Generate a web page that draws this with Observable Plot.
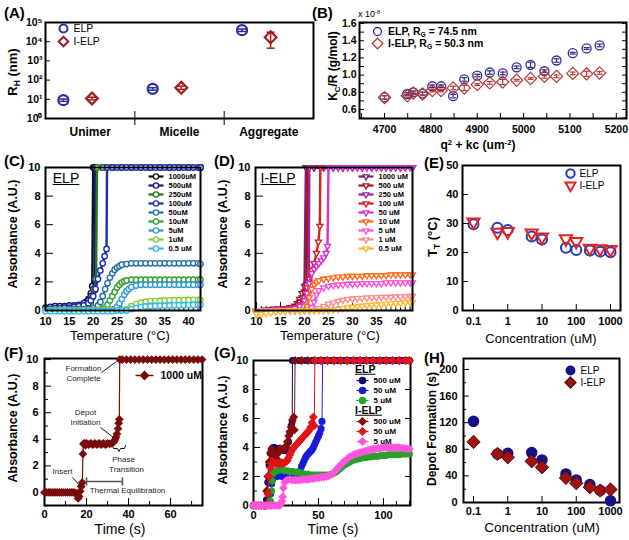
<!DOCTYPE html>
<html><head><meta charset="utf-8">
<script src="https://cdn.jsdelivr.net/npm/d3@7"></script>
<script src="https://cdn.jsdelivr.net/npm/@observablehq/plot@0.6"></script>
<style>
body{margin:0;background:#fff;}
#root{position:relative;width:629px;height:540px;overflow:hidden;font-family:"Liberation Sans",Arial,sans-serif;background:#fff;}
.t{position:absolute;white-space:nowrap;line-height:1;color:#000;transform-origin:50% 50%;}
.t sub{font-size:65%;vertical-align:baseline;position:relative;top:0.35em;}
.t sup{font-size:65%;vertical-align:baseline;position:relative;top:-0.5em;}
</style></head><body><div id="root"></div>
<script>
// ================= DATA =================
// (A) hydrodynamic radius
const categories = ["Unimer", "Micelle", "Aggregate"];
const rhELP = [9, 35, 40000];
const rhELPLo = [7.8, 30, 34000];
const rhELPHi = [10.3, 40, 46000];
const rhIELP = [11, 40, 17000];
const rhIELPLo = [9.3, 33, 4600];
const rhIELPHi = [12.8, 48, 31000];
const aYTicks = [1, 10, 100, 1000, 10000, 100000];
const aYTickLabels = ["10⁰", "10¹", "10²", "10³", "10⁴", "10⁵"];

// (B) Zimm data
const q2 = [4700, 4749, 4762, 4782, 4803, 4822, 4848, 4872, 4900, 4927, 4955, 4985, 5015, 5045, 5071, 5106, 5136, 5164];
const kcELP = [0.74, 0.78, 0.80, 0.785, 0.87, 0.87, 0.755, 0.95, 0.995, 1.03, 1.02, 1.09, 1.12, 1.045, 1.17, 1.255, 1.31, 1.345];
const kcELPErr = [0.02, 0.015, 0.015, 0.015, 0.015, 0.015, 0.02, 0.02, 0.015, 0.02, 0.015, 0.015, 0.03, 0.015, 0.02, 0.01, 0.01, 0.015];
const kcIELP = [0.74, 0.76, 0.79, 0.78, 0.82, 0.82, 0.85, 0.85, 0.89, 0.91, 0.92, 0.94, 0.96, 0.985, 0.985, 1.02, 1.015, 1.025];
const kcIELPErr = [0.02, 0.015, 0.015, 0.02, 0.015, 0.015, 0.02, 0.03, 0.01, 0.015, 0.03, 0.01, 0.01, 0.02, 0.015, 0.015, 0.03, 0.015];
const bXTicks = [4700, 4800, 4900, 5000, 5100, 5200];
const bXMinor = [4650, 4700, 4750, 4800, 4850, 4900, 4950, 5000, 5050, 5100, 5150, 5200];
const bYTicks = [0.6, 0.8, 1.0, 1.2, 1.4, 1.6];
const bYMinor = [0.5, 0.6, 0.7, 0.8, 0.9, 1.0, 1.1, 1.2, 1.3, 1.4, 1.5, 1.6];

// (C) ELP turbidity vs temperature [T, A]
const cLabels = ["1000uM", "500uM", "250uM", "100uM", "50uM", "10uM", "5uM", "1uM", "0.5 uM"];
const c1000 = [[10,0.1],[11,0.15],[12,0.15],[13,0.2],[14,0.2],[15,0.2],[16,0.25],[17,0.3],[18,0.4],[18.5,0.6],[19,0.8],[19.5,1.2],[19.8,1.7],[20,10],[22,10],[24,10],[26,10],[28,10],[30,10],[32,10],[34,10],[36,10],[38,10],[40,10],[42.5,10]];
const c500 = [[10,0.2],[11,0.25],[12,0.3],[13,0.3],[14,0.3],[15,0.35],[16,0.35],[17,0.4],[18,0.5],[19,0.7],[19.5,1.0],[20,1.5],[20.3,2.2],[20.4,10],[22,10],[24,10],[26,10],[28,10],[30,10],[32,10],[34,10],[36,10],[38,10],[40,10],[42.5,10]];
const c250 = [[10,0.05],[11,0.05],[12,0.1],[13,0.1],[14,0.15],[15,0.15],[16,0.2],[17,0.2],[18,0.3],[19,0.5],[19.8,0.9],[20.3,1.4],[20.6,2.2],[20.8,10],[22,10],[24,10],[26,10],[28,10],[30,10],[32,10],[34,10],[36,10],[38,10],[40,10],[42.5,10]];
const c100 = [[10,0.1],[11,0.1],[12,0.15],[13,0.15],[14,0.2],[15,0.2],[16,0.25],[17,0.3],[18,0.35],[19,0.5],[19.5,0.7],[20,1.0],[20.5,1.5],[21,2.2],[21.5,2.8],[22,3.3],[22.4,3.8],[22.8,4.3],[22.9,10],[24,10],[25,10],[26,10],[27,10],[28,10],[29,10],[30,10],[31,10],[32,10],[33,10],[34,10],[35,10],[36,10],[37,10],[38,10],[39,10],[40,10],[41,10],[42,10],[42.5,10]];
const c50 = [[10,0.05],[11,0.05],[12,0.05],[13,0.05],[14,0.05],[15,0.1],[16,0.1],[17,0.1],[18,0.1],[19,0.1],[20,0.15],[21,0.35],[21.5,0.6],[22,1.0],[22.5,1.5],[23,1.9],[23.5,2.3],[24,2.6],[24.5,2.85],[25,3.0],[25.5,3.1],[26,3.2],[27,3.25],[28,3.3],[29,3.3],[30,3.3],[31,3.3],[32,3.3],[33,3.3],[34,3.3],[35,3.3],[36,3.3],[37,3.3],[38,3.3],[39,3.3],[40,3.3],[41,3.3],[42,3.3],[42.5,3.25]];
const c10 = [[10,0],[11,0],[12,0],[13,0],[14,0],[15,0],[16,0],[17,0],[18,0],[19,0],[20,0],[21,0.05],[22,0.1],[22.5,0.2],[23,0.4],[23.5,0.7],[24,1.0],[24.5,1.3],[25,1.6],[25.5,1.8],[26,1.95],[26.5,2.05],[27,2.1],[28,2.15],[29,2.15],[30,2.15],[31,2.15],[32,2.15],[33,2.15],[34,2.15],[35,2.15],[36,2.15],[37,2.15],[38,2.15],[39,2.15],[40,2.15],[41,2.15],[42,2.15],[42.5,2.15]];
const c5 = [[10,0],[11,0],[12,0],[13,0],[14,0],[15,0],[16,0],[17,0],[18,0],[19,0],[20,0],[21,0],[22,0],[23,0],[24,0],[24.5,0.1],[25,0.25],[25.5,0.5],[26,0.8],[26.5,1.1],[27,1.35],[27.5,1.5],[28,1.65],[29,1.75],[30,1.8],[31,1.8],[32,1.8],[33,1.8],[34,1.8],[35,1.8],[36,1.8],[37,1.8],[38,1.8],[39,1.8],[40,1.8],[41,1.8],[42,1.8],[42.5,1.8]];
const c1 = [[10,0],[11,0],[12,0],[13,0],[14,0],[15,0],[16,0],[17,0],[18,0],[19,0],[20,0],[21,0],[22,0],[23,0],[24,0],[25,0],[26,0],[27,0.1],[28,0.3],[29,0.45],[30,0.55],[31,0.62],[32,0.66],[33,0.68],[34,0.69],[35,0.7],[36,0.71],[37,0.72],[38,0.72],[39,0.73],[40,0.74],[41,0.75],[42,0.75],[42.5,0.75]];
const c05 = [[10,-0.05],[11,-0.05],[12,-0.05],[13,-0.05],[14,-0.05],[15,-0.05],[16,-0.05],[17,-0.05],[18,-0.05],[19,-0.05],[20,-0.05],[21,-0.05],[22,-0.05],[23,-0.05],[24,-0.05],[25,0],[26,0],[27,0],[28,0.1],[29,0.18],[30,0.25],[31,0.28],[32,0.3],[33,0.32],[34,0.33],[35,0.34],[36,0.35],[37,0.36],[38,0.37],[39,0.37],[40,0.38],[41,0.39],[42,0.4],[42.5,0.4]];
const cSeries = [c1000, c500, c250, c100, c50, c10, c5, c1, c05];

// (D) I-ELP turbidity vs temperature [T, A]
const dLabels = ["1000 uM", "500 uM", "250 uM", "100 uM", "50 uM", "10 uM", "5 uM", "1 uM", "0.5 uM"];
const d1000 = [[10,-0.2],[11,-0.15],[12,0],[13,0.05],[14,0.1],[15,0.1],[16,0.15],[17,0.2],[18,0.3],[18.5,0.5],[19,0.8],[19.5,1.2],[20,1.7],[20.3,10],[22,10],[24,10],[26,10],[28,10],[30,10],[32,10],[34,10],[36,10],[38,10],[40,10],[42.5,10]];
const d500 = [[10,-0.1],[11,-0.05],[12,0],[13,0.05],[14,0.1],[15,0.1],[16,0.15],[17,0.2],[18,0.3],[19,0.6],[19.5,0.9],[20,1.3],[20.4,1.8],[20.7,10],[22,10],[24,10],[26,10],[28,10],[30,10],[32,10],[34,10],[36,10],[38,10],[40,10],[42.5,10]];
const d250 = [[10,-0.1],[11,-0.05],[12,0],[13,0],[14,0.05],[15,0.05],[16,0.1],[17,0.15],[18,0.2],[19,0.4],[20,0.9],[20.5,1.5],[20.9,2.0],[21,10],[22,10],[24,10],[26,10],[28,10],[30,10],[32,10],[34,10],[36,10],[38,10],[40,10],[42.5,10]];
const d100 = [[10,0],[11,0],[12,0.05],[13,0.05],[14,0.1],[15,0.1],[16,0.15],[17,0.15],[18,0.2],[19,0.4],[20,0.9],[20.5,1.6],[21,2.2],[21.5,2.8],[22,3.3],[22.5,4.0],[22.9,4.8],[23.2,5.9],[23.3,10],[25,10],[27,10],[29,10],[31,10],[33,10],[35,10],[37,10],[39,10],[41,10],[42.5,10]];
const d50 = [[10,0],[11,0],[12,0],[13,0],[14,0.05],[15,0.05],[16,0.1],[17,0.1],[18,0.15],[19,0.3],[20,0.7],[20.5,1.2],[21,1.9],[21.5,2.6],[22,2.9],[22.5,3.1],[23,3.3],[23.5,3.5],[24,3.7],[24.5,4.0],[24.8,4.5],[25,10],[26,10],[27,10],[28,10],[29,10],[30,10],[31,10],[32,10],[33,10],[34,10],[35,10],[36,10],[37,10],[38,10],[39,10],[40,10],[41,10],[42,10],[42.5,10]];
const d10 = [[10,-0.1],[11,-0.1],[12,-0.1],[13,-0.05],[14,-0.05],[15,0],[16,0],[17,0],[18,0],[19,0],[20,0.05],[20.5,0.3],[21,0.9],[21.5,1.5],[22,1.8],[22.5,2.0],[23,2.1],[24,2.2],[25,2.25],[26,2.3],[27,2.35],[28,2.35],[29,2.4],[30,2.4],[31,2.4],[32,2.4],[33,2.45],[34,2.45],[35,2.45],[36,2.45],[37,2.45],[38,2.5],[39,2.5],[40,2.5],[41,2.5],[42,2.5],[42.5,2.5]];
const d5 = [[10,0],[11,0],[12,0],[13,0],[14,0],[15,0],[16,0],[17,0],[18,0],[19,0],[20,0],[21,0],[21.5,0.2],[22,0.6],[22.5,1.1],[23,1.4],[24,1.6],[25,1.7],[26,1.75],[27,1.8],[28,1.8],[29,1.85],[30,1.85],[31,1.85],[32,1.9],[33,1.9],[34,1.9],[35,1.9],[36,1.9],[37,1.95],[38,1.95],[39,1.95],[40,1.95],[41,1.95],[42,1.95],[42.5,1.95]];
const d1 = [[10,0],[11,0],[12,0],[13,0],[14,0],[15,0],[16,0],[17,0],[18,0],[19,0],[20,0],[21,0],[22,0],[23,0.15],[24,0.3],[25,0.45],[26,0.55],[27,0.65],[28,0.72],[29,0.78],[30,0.82],[31,0.85],[32,0.87],[33,0.89],[34,0.9],[35,0.92],[36,0.93],[37,0.94],[38,0.95],[39,0.96],[40,0.97],[41,0.98],[42,1.0],[42.5,1.0]];
const d05 = [[10,-0.25],[11,-0.25],[12,-0.2],[13,-0.15],[14,-0.1],[15,-0.05],[16,-0.05],[17,0],[18,0],[19,0],[20,0],[21,0],[22,0],[23,0],[24,0],[25,0],[26,0.05],[27,0.1],[28,0.15],[29,0.2],[30,0.25],[31,0.28],[32,0.32],[33,0.35],[34,0.38],[35,0.4],[36,0.43],[37,0.45],[38,0.48],[39,0.5],[40,0.52],[41,0.55],[42,0.57],[42.5,0.58]];
const dSeries = [d1000, d500, d250, d100, d50, d10, d5, d1, d05];
const cdXTicks = [10, 15, 20, 25, 30, 35, 40];
const cdXMinor = [11,12,13,14,16,17,18,19,21,22,23,24,26,27,28,29,31,32,33,34,36,37,38,39,41,42];
const cdYTicks = [0, 2, 4, 6, 8, 10];

// (E) transition temperature vs concentration
const conc = [0.1, 0.5, 1, 5, 10, 50, 100, 250, 500, 1000];
const ttELP = [29.7, 28.5, 27.8, 25.5, 24.5, 21.6, 20.9, 20.7, 20.3, 20.1];
const ttIELP = [30.5, 27.0, 27.2, 26.7, 25.3, 24.7, 23.8, 21.5, 21.3, 21.0];
const logTicks = [0.1, 1, 10, 100, 1000];
const eYTicks = [0, 10, 20, 30, 40, 50];

// (F) depot formation, 1000 uM [time, A]
const f1000 = [[0,0],[1,0],[2,0],[3,0],[4,0],[5,0],[6,0],[7,0],[8,0],[9,0],[10,0],[11,0],[12,0],[13,0],[14,0],[15,-0.05],[15.5,-0.2],[16,-0.45],[16.5,-0.3],[17,0.1],[17.5,0.45],[18,0.75],[18.3,2.9],[18.5,3.65],[19,3.7],[19.5,3.55],[20,3.7],[21,3.6],[22,3.7],[23,3.6],[24,3.7],[25,3.6],[26,3.7],[27,3.6],[28,3.7],[29,3.6],[30,3.7],[31,3.65],[32,3.7],[33,3.8],[33.5,3.95],[34,4.15],[34.5,4.4],[35,4.8],[35.3,5.2],[35.6,5.5],[35.8,10],[37,10],[39,10],[41,10],[43,10],[45,10],[47,10],[49,10],[51,10],[53,10],[55,10],[57,10],[59,10],[61,10],[63,10],[65,10],[67,10],[69,10],[71,10],[73,10],[75,10]];
const fAnnot = ["Formation", "Complete", "Depot", "Initiation", "Phase", "Transition", "Insert", "Thermal Equilibration"];
const fXTicks = [0, 20, 40, 60];
const fXMinor = [10, 30, 50, 70];
const fYTicks = [0, 2, 4, 6, 8, 10];
const fYMinor = [-1, 1, 3, 5, 7, 9];

// (G) depot formation kinetics [time, A]
const gLabels = ["500 uM", "50 uM", "5 uM"];
const gE500 = [[0,0],[2,0],[4,0],[6,0],[8,0],[9,0],[10,0.4],[11,1.6],[12,2.8],[13,3.6],[14,3.9],[15,4.0],[16,4.0],[17,3.95],[18,3.9],[19,3.9],[20,3.95],[21,3.9],[22,3.85],[23,3.8],[24,3.8],[25,3.85],[26,3.9],[27,4.4],[28,5.0],[29,5.5],[29.8,5.8],[30,10],[35,10],[40,10],[45,10],[50,10],[55,10],[60,10],[65,10],[70,10],[75,10],[80,10],[85,10],[90,10],[95,10],[100,10],[105,10],[110,10],[115,10],[120,10]];
const gE50 = [[0,0],[2,0],[4,0],[6,0],[8,0],[10,0],[11,0],[12,0.2],[13,0.8],[14,1.5],[15,1.9],[16,2.0],[18,2.0],[20,2.05],[22,2.0],[24,2.0],[26,2.0],[28,2.0],[30,2.0],[32,2.0],[34,2.05],[35,2.2],[36,2.4],[37,2.7],[38,2.9],[39,3.1],[40,3.3],[41,3.45],[42,3.55],[43,3.65],[44,3.75],[45,3.85],[46,4.0],[47,4.2],[48,4.4],[49,4.6],[50,4.8],[51,5.0],[52,5.3],[52.7,5.8],[53.2,10],[58,10],[63,10],[68,10],[73,10],[78,10],[83,10],[88,10],[93,10],[98,10],[103,10],[108,10],[113,10],[118,10],[120,10]];
const gE5 = [[0,0],[2,0],[4,0],[6,0],[8,0],[10,0],[12,0],[13,0.3],[14,1.0],[14.5,1.7],[15,2.2],[16,2.35],[18,2.4],[20,2.45],[22,2.45],[24,2.4],[26,2.4],[28,2.35],[30,2.35],[32,2.3],[34,2.3],[36,2.25],[38,2.2],[40,2.15],[42,2.15],[44,2.1],[46,2.1],[48,2.1],[50,2.1],[52,2.1],[54,2.1],[56,2.1],[58,2.1],[60,2.15],[62,2.25],[64,2.35],[66,2.5],[68,2.65],[70,2.8],[72,2.9],[74,3.0],[76,3.1],[78,3.15],[80,3.2],[82,3.25],[84,3.3],[86,3.3],[88,3.35],[90,3.35],[92,3.4],[94,3.4],[96,3.4],[98,3.45],[100,3.45],[102,3.45],[104,3.5],[106,3.5],[108,3.5],[110,3.5],[112,3.5],[114,3.55],[116,3.55],[118,3.55],[120,3.55]];
const gI500 = [[0,0],[2,0],[4,0],[6,0],[8,0],[9,0],[10,1.0],[11,2.0],[12,3.0],[13,3.6],[14,3.9],[15,3.6],[16,3.3],[17,3.1],[18,3.2],[19,3.6],[20,3.9],[21,3.9],[22,3.85],[23,3.9],[24,3.95],[25,4.1],[26,4.4],[27,4.8],[28,5.1],[29,5.4],[30,5.9],[31,6.1],[31.5,5.2],[32,10],[37,10],[42,10],[47,10],[52,10],[57,10],[62,10],[67,10],[72,10],[77,10],[82,10],[87,10],[92,10],[97,10],[102,10],[107,10],[112,10],[117,10],[120,10]];
const gI50 = [[0,0],[2,0],[4,0],[6,0],[8,0],[10,0],[11,0.8],[12,2.0],[13,2.6],[14,2.9],[15,3.0],[16,2.95],[17,2.9],[18,2.9],[19,2.9],[20,2.9],[21,2.9],[22,2.95],[23,2.9],[24,2.95],[25,3.0],[26,3.1],[27,3.3],[28,3.5],[29,3.7],[30,3.9],[31,4.0],[32,4.1],[33,4.2],[34,4.3],[35,4.4],[36,4.5],[37,4.6],[38,4.7],[39,4.8],[40,4.9],[41,5.0],[42,5.1],[43,5.2],[44,5.4],[45,5.7],[46,6.1],[46.8,5.5],[47.2,10],[52,10],[57,10],[62,10],[67,10],[72,10],[77,10],[82,10],[87,10],[92,10],[97,10],[102,10],[107,10],[112,10],[117,10],[120,10]];
const gI5 = [[0,0],[2,0],[4,0],[6,0],[8,0],[10,0],[12,0],[14,0],[16,0],[18,0],[20,0],[21,0.1],[22,0.3],[22.5,0.6],[23,1.2],[24,1.6],[25,1.7],[26,1.75],[28,1.8],[30,1.75],[32,1.75],[34,1.75],[36,1.75],[38,1.8],[40,1.8],[42,1.8],[44,1.85],[46,1.85],[48,1.9],[50,1.9],[52,1.95],[54,1.95],[56,2.0],[58,2.05],[60,2.15],[62,2.3],[64,2.5],[66,2.7],[68,2.9],[70,3.05],[72,3.2],[74,3.35],[76,3.45],[78,3.55],[80,3.6],[82,3.65],[84,3.7],[86,3.75],[88,3.8],[90,3.85],[92,3.9],[94,3.9],[96,3.95],[98,3.95],[100,4.0],[102,4.0],[104,4.0],[106,4.0],[108,4.0],[110,4.0],[112,4.0],[114,3.95],[116,3.95],[118,3.9],[120,3.9]];
const gSeriesELP = [gE500, gE50, gE5];
const gSeriesIELP = [gI500, gI50, gI5];
const gXTicks = [0, 50, 100];
const gXMinor = [10, 20, 30, 40, 60, 70, 80, 90, 110, 120];

// (H) depot formation time vs concentration
const depELP = [122, 73, 74, 75, 64, 43, 34, 27, 18, 2.5];
const depIELP = [91, 73, 68, 62, 53, 37, 29, 23, 18, 19.5];
const hYTicks = [0, 40, 80, 120, 160, 200];
const hYMinor = [20, 60, 100, 140, 180];

// ================= STYLES =================
const FONT = '"Liberation Sans", Arial, sans-serif';
const cColors = ["#111111", "#16167a", "#1e7b1e", "#1f2cb0", "#2270a8", "#33a033", "#3399dd", "#88cc33", "#33bbf0"];
const dColors = ["#7a1f6e", "#a61515", "#a3209a", "#d92020", "#d830cc", "#ff6a1a", "#ff50d8", "#ff8c8c", "#ffb830"];
const gColorsELP = ["#0a0a6e", "#1a1ad8", "#2a9e2a"];
const gColorsIELP = ["#8b0b0b", "#e01515", "#ff55dd"];

// ================= HELPERS =================
const root = document.getElementById("root");
const cap = w => ({draw(ctx) { ctx.moveTo(-w, 0); ctx.lineTo(w, 0); }});
const triDown = {draw(ctx, size) { const s = Math.sqrt(size) * 1.25, h = s * 0.866; ctx.moveTo(-s / 2, -h / 3); ctx.lineTo(s / 2, -h / 3); ctx.lineTo(0, 2 * h / 3); ctx.closePath(); }};

function inv(sc, r0, r1, p) {
  const [d0, d1] = sc.domain, t = (p - r0) / (r1 - r0);
  if (sc.type === "log") return 10 ** (Math.log10(d0) + t * (Math.log10(d1) - Math.log10(d0)));
  return d0 + t * (d1 - d0);
}
const px = (P, p) => inv(P.x, P.frame[0], P.frame[2], p);
const py = (P, p) => inv(P.y, P.frame[3], P.frame[1], p);

function render(P, marks) {
  const [x0, y0, x1, y1] = P.frame;
  const ml = 60, mr = 30, mt = 30, mb = 40;
  const svg = Plot.plot({
    width: x1 - x0 + ml + mr, height: y1 - y0 + mt + mb,
    marginLeft: ml, marginRight: mr, marginTop: mt, marginBottom: mb,
    x: {...P.x}, y: {...P.y},
    style: {fontFamily: FONT, fontSize: "11px", fontWeight: "bold", background: "transparent", overflow: "visible", maxWidth: "none"},
    marks
  });
  svg.style.position = "absolute";
  svg.style.left = (x0 - ml) + "px";
  svg.style.top = (y0 - mt) + "px";
  root.appendChild(svg);
}
function T(html, x, y, o = {}) {
  const d = document.createElement("div");
  d.className = "t";
  d.innerHTML = html;
  d.style.left = x + "px"; d.style.top = y + "px";
  d.style.fontSize = (o.size || 13) + "px";
  d.style.fontWeight = o.weight || "bold";
  if (o.color) d.style.color = o.color;
  if (o.underline) d.style.textDecoration = "underline";
  const ax = o.anchor === "start" ? "0%" : o.anchor === "end" ? "-100%" : "-50%";
  d.style.transform = `translate(${ax},-50%)` + (o.rotate ? ` rotate(${o.rotate}deg)` : "");
  root.appendChild(d);
}
const tX = (ticks, size, anchor = "bottom") => Plot.axisX({ticks, anchor, tickSize: -size, text: null, label: null});
const tY = (ticks, size, anchor = "left") => Plot.axisY({ticks, anchor, tickSize: -size, text: null, label: null});
const lX = (ticks, fmt, pad, fs) => Plot.axisX({ticks, tickSize: 0, tickPadding: pad, tickFormat: fmt, fontSize: fs, label: null});
const lY = (ticks, fmt, pad, fs) => Plot.axisY({ticks, tickSize: 0, tickPadding: pad, tickFormat: fmt, fontSize: fs, label: null});
const frame = () => Plot.frame({stroke: "#000", strokeWidth: 2});
const X = d => d[0], Y = d => d[1];

// ================= PANELS =================
const PA = {frame: [45, 22, 313, 118], x: {type: "linear", domain: [0, 3]}, y: {type: "log", domain: [1, 100000]}};
const PB = {frame: [359, 22, 626, 118], x: {type: "linear", domain: [4646, 5222]}, y: {type: "linear", domain: [0.495, 1.612]}};
const PC = {frame: [45, 167, 200, 310], x: {type: "linear", domain: [10, 42.5]}, y: {type: "linear", domain: [0, 10]}};
const PD = {frame: [255, 167, 412, 310], x: {type: "linear", domain: [9.8, 42.5]}, y: {type: "linear", domain: [0, 10]}};
const PE = {frame: [462, 165, 620, 310], x: {type: "log", domain: [0.0477, 1958]}, y: {type: "linear", domain: [0, 50]}};
const PF = {frame: [44, 358, 202, 505], x: {type: "linear", domain: [0, 75.2]}, y: {type: "linear", domain: [-0.98, 10.08]}};
const PG = {frame: [253, 360, 410, 505], x: {type: "linear", domain: [0, 120.8]}, y: {type: "linear", domain: [0, 10]}};
const PH = {frame: [463, 358, 619, 502], x: {type: "log", domain: [0.051, 1831]}, y: {type: "linear", domain: [0, 216.5]}};

// ---- (A)
{
  const P = PA, idx = [0, 1, 2], cE = "#2b2ba6", cI = "#a31d1d";
  const xE = i => i + 0.2, xI = i => i + 0.52;
  const legY = [28, 41].map(v => py(P, v)), legX = px(P, 63), legTX = px(P, 73);
  render(P, [
    tY(aYTicks, 5),
    lY(aYTicks, d => aYTickLabels[Math.round(Math.log10(d))], 3, 10.5),
    Plot.axisX({ticks: [1, 2], tickSize: 7, text: null, label: null}),
    tX([1, 2], 7),
    lX([0.5, 1.5, 2.5], d => categories[Math.floor(d)], 9, 12),
    frame(),
    Plot.ruleX(idx, {x: xE, y1: i => rhELPLo[i], y2: i => rhELPHi[i], stroke: cE, strokeWidth: 1.5}),
    Plot.dot(idx, {x: xE, y: i => rhELPLo[i], symbol: cap(4), fill: "none", stroke: cE, strokeWidth: 1.5}),
    Plot.dot(idx, {x: xE, y: i => rhELPHi[i], symbol: cap(4), fill: "none", stroke: cE, strokeWidth: 1.5}),
    Plot.dot(idx, {x: xE, y: i => rhELP[i], r: 5, fill: "none", stroke: cE, strokeWidth: 2.2}),
    Plot.ruleX(idx, {x: xI, y1: i => rhIELPLo[i], y2: i => rhIELPHi[i], stroke: cI, strokeWidth: 1.5}),
    Plot.dot(idx, {x: xI, y: i => rhIELPLo[i], symbol: cap(4), fill: "none", stroke: cI, strokeWidth: 1.5}),
    Plot.dot(idx, {x: xI, y: i => rhIELPHi[i], symbol: cap(4), fill: "none", stroke: cI, strokeWidth: 1.5}),
    Plot.dot(idx, {x: xI, y: i => rhIELP[i], r: 5.3, symbol: "diamond2", fill: "none", stroke: cI, strokeWidth: 2.2}),
    Plot.dot([0], {x: () => legX, y: () => legY[0], r: 4, fill: "none", stroke: cE, strokeWidth: 2}),
    Plot.dot([0], {x: () => legX, y: () => legY[1], r: 4.3, symbol: "diamond2", fill: "none", stroke: cI, strokeWidth: 2}),
    Plot.text(["ELP", "I-ELP"], {x: () => legTX, y: (d, i) => legY[i], text: d => d, textAnchor: "start", fontSize: 10.5, fontWeight: "normal"})
  ]);
}

// ---- (B)
{
  const P = PB, idx = q2.map((d, i) => i), cE = "#2d2d8c", cI = "#b33a3a";
  const legY = [31, 43].map(v => py(P, v)), legX = px(P, 377);
  render(P, [
    tY(bYMinor, 5), tY(bYMinor, 5, "right"),
    lY(bYTicks, d3.format(".1f"), 3, 10.5),
    tX(bXMinor, 5),
    lX(bXTicks, d => String(d), 7, 10.5),
    frame(),
    Plot.ruleX(idx, {x: i => q2[i], y1: i => kcELP[i] - kcELPErr[i], y2: i => kcELP[i] + kcELPErr[i], stroke: cE, strokeWidth: 1.2}),
    Plot.dot(idx, {x: i => q2[i], y: i => kcELP[i] - kcELPErr[i], symbol: cap(3), fill: "none", stroke: cE, strokeWidth: 1.2}),
    Plot.dot(idx, {x: i => q2[i], y: i => kcELP[i] + kcELPErr[i], symbol: cap(3), fill: "none", stroke: cE, strokeWidth: 1.2}),
    Plot.dot(idx, {x: i => q2[i], y: i => kcELP[i], r: 4.5, fill: "none", stroke: cE, strokeWidth: 1.3}),
    Plot.ruleX(idx, {x: i => q2[i], y1: i => kcIELP[i] - kcIELPErr[i], y2: i => kcIELP[i] + kcIELPErr[i], stroke: cI, strokeWidth: 1.2}),
    Plot.dot(idx, {x: i => q2[i], y: i => kcIELP[i] - kcIELPErr[i], symbol: cap(3), fill: "none", stroke: cI, strokeWidth: 1.2}),
    Plot.dot(idx, {x: i => q2[i], y: i => kcIELP[i] + kcIELPErr[i], symbol: cap(3), fill: "none", stroke: cI, strokeWidth: 1.2}),
    Plot.dot(idx, {x: i => q2[i], y: i => kcIELP[i], r: 5.5, symbol: "diamond2", fill: "none", stroke: cI, strokeWidth: 1.2}),
    Plot.dot([0], {x: () => legX, y: () => legY[0], r: 4, fill: "none", stroke: cE, strokeWidth: 1.3}),
    Plot.dot([0], {x: () => legX, y: () => legY[1], r: 4.8, symbol: "diamond2", fill: "none", stroke: cI, strokeWidth: 1.3})
  ]);
  T("ELP, R<sub>G</sub> = 74.5 nm", 388, 31, {size: 10.5, anchor: "start"});
  T("I-ELP, R<sub>G</sub> = 50.3 nm", 388, 43, {size: 10.5, anchor: "start"});
}

// ---- (C) and (D)
function turbPanel(P, series, colors, labels, sym, legX0) {
  const marks = [
    tY(cdYTicks, 8), lY(cdYTicks, d => String(d), 5, 11),
    tX(cdXMinor, 4), tX(cdXTicks, 8), lX(cdXTicks, d => String(d), 7, 11),
  ];
  series.forEach((s, k) => {
    marks.push(Plot.line(s, {x: X, y: Y, stroke: colors[k], strokeWidth: 2.4}));
    marks.push(Plot.dot(s, {x: X, y: Y, r: 2.7, symbol: sym, fill: "white", stroke: colors[k], strokeWidth: 1.4}));
  });
  marks.push(frame());
  const idx = labels.map((d, i) => i);
  const ly = i => py(P, 176 + 9 * i);
  marks.push(Plot.link(idx, {x1: () => px(P, legX0), x2: () => px(P, legX0 + 15), y1: ly, y2: ly, stroke: i => colors[i], strokeWidth: 2.2}));
  marks.push(Plot.dot(idx, {x: () => px(P, legX0 + 7.5), y: ly, r: 2.6, symbol: sym, fill: "white", stroke: i => colors[i], strokeWidth: 1.3}));
  marks.push(Plot.text(idx, {x: () => px(P, legX0 + 20), y: ly, text: i => labels[i], textAnchor: "start", fontSize: 7.5, fontWeight: "bold"}));
  render(P, marks);
}
turbPanel(PC, cSeries, cColors, cLabels, "circle", 148);
turbPanel(PD, dSeries, dColors, dLabels, triDown, 358);
T("ELP", 66, 178, {size: 14, weight: "normal", underline: true});
T("I-ELP", 278, 178, {size: 14, weight: "normal", underline: true});

// ---- (E)
{
  const P = PE, idx = conc.map((d, i) => i), cE = "#1f3cbf", cI = "#e52222";
  const legY = [173, 185].map(v => py(P, v)), legX = px(P, 570), legTX = px(P, 579);
  render(P, [
    tY(eYTicks, 6), lY(eYTicks, d => String(d), 4, 11),
    tX(logTicks, 6), lX(logTicks, d => String(d), 7, 11),
    frame(),
    Plot.dot(idx, {x: i => conc[i], y: i => ttELP[i], r: 5, fill: "none", stroke: cE, strokeWidth: 2}),
    Plot.dot(idx, {x: i => conc[i], y: i => ttIELP[i], r: 5.5, symbol: triDown, fill: "none", stroke: cI, strokeWidth: 2}),
    Plot.dot([0], {x: () => legX, y: () => legY[0], r: 4.2, fill: "none", stroke: cE, strokeWidth: 2}),
    Plot.dot([0], {x: () => legX, y: () => legY[1], r: 4.5, symbol: triDown, fill: "none", stroke: cI, strokeWidth: 2}),
    Plot.text(["ELP", "I-ELP"], {x: () => legTX, y: (d, i) => legY[i], text: d => d, textAnchor: "start", fontSize: 10, fontWeight: "normal"})
  ]);
}

// ---- (F)
{
  const P = PF, col = "#7a0c0c";
  const pos = [[83, 368], [83, 378], [85, 412], [85, 422], [123, 459], [126, 469], [62, 471], [127, 490]];
  const aIdx = fAnnot.map((d, i) => i);
  const leaders = [[[101, 372], [116, 361]], [[100, 427], [113, 437]], [[72, 477], [81, 487]]];
  const brace = [[112, 445], [113, 448], [117, 448], [118.5, 451], [120, 448], [124, 448], [125, 445]];
  const conv = pts => pts.map(([a, b]) => [px(P, a), py(P, b)]);
  render(P, [
    tY(fYTicks, 7), tY(fYMinor, 4), lY(fYTicks, d => String(d), 6, 11),
    tX(fXTicks, 7), tX(fXMinor, 4), lX(fXTicks, d => String(d), 5, 11),
    frame(),
    Plot.line(f1000, {x: X, y: Y, stroke: col, strokeWidth: 1.2}),
    Plot.dot(f1000, {x: X, y: Y, r: 3, symbol: "diamond2", fill: col, stroke: col}),
    Plot.link(leaders.map(conv), {x1: d => d[0][0], y1: d => d[0][1], x2: d => d[1][0], y2: d => d[1][1], stroke: "#111", strokeWidth: 1}),
    Plot.line(conv(brace), {x: X, y: Y, stroke: "#111", strokeWidth: 1}),
    Plot.link([0], {x1: () => px(P, 86), x2: () => px(P, 122), y1: () => py(P, 481), y2: () => py(P, 481), stroke: "#555", strokeWidth: 1.6}),
    Plot.link([86, 122], {x1: d => px(P, d), x2: d => px(P, d), y1: () => py(P, 477), y2: () => py(P, 485), stroke: "#555", strokeWidth: 1.6}),
    Plot.text(aIdx, {x: i => px(P, pos[i][0]), y: i => py(P, pos[i][1]), text: i => fAnnot[i], fontSize: 8, fontWeight: "normal", fill: "#222"}),
    Plot.link([0], {x1: () => px(P, 135), x2: () => px(P, 153), y1: () => py(P, 375), y2: () => py(P, 375), stroke: col, strokeWidth: 1.5}),
    Plot.dot([0], {x: () => px(P, 144), y: () => py(P, 375), r: 3.5, symbol: "diamond2", fill: col, stroke: col}),
    Plot.text(["1000 uM"], {x: () => px(P, 160), y: () => py(P, 375), text: d => d, textAnchor: "start", fontSize: 10.5, fontWeight: "bold"})
  ]);
}

// ---- (G)
{
  const P = PG;
  const marks = [
    tY(fYTicks, 7), tY([2, 4, 6, 8], 6, "right"), tY([1, 3, 5, 7, 9], 4), lY(fYTicks, d => String(d), 5, 11),
    tX(gXTicks, 7), tX(gXMinor, 4), lX(gXTicks, d => String(d), 6, 11),
    frame()
  ];
  gSeriesELP.forEach((s, k) => {
    marks.push(Plot.line(s, {x: X, y: Y, stroke: gColorsELP[k], strokeWidth: 1}));
    marks.push(Plot.dot(s, {x: X, y: Y, r: 2.8, fill: gColorsELP[k], stroke: gColorsELP[k]}));
  });
  gSeriesIELP.forEach((s, k) => {
    marks.push(Plot.line(s, {x: X, y: Y, stroke: gColorsIELP[k], strokeWidth: 1}));
    marks.push(Plot.dot(s, {x: X, y: Y, r: 3, symbol: "diamond2", fill: gColorsIELP[k], stroke: gColorsIELP[k]}));
  });
  const idx = [0, 1, 2];
  const lyE = i => py(P, 380 + 10 * i), lyI = i => py(P, 421 + 10 * i);
  const lx1 = () => px(P, 356), lx2 = () => px(P, 368), lxs = () => px(P, 362), lxt = () => px(P, 373);
  marks.push(
    Plot.link(idx, {x1: lx1, x2: lx2, y1: lyE, y2: lyE, stroke: i => gColorsELP[i], strokeWidth: 1.2}),
    Plot.dot(idx, {x: lxs, y: lyE, r: 3, fill: i => gColorsELP[i], stroke: i => gColorsELP[i]}),
    Plot.text(idx, {x: lxt, y: lyE, text: i => gLabels[i], textAnchor: "start", fontSize: 8, fontWeight: "bold"}),
    Plot.link(idx, {x1: lx1, x2: lx2, y1: lyI, y2: lyI, stroke: i => gColorsIELP[i], strokeWidth: 1.2}),
    Plot.dot(idx, {x: lxs, y: lyI, r: 3.2, symbol: "diamond2", fill: i => gColorsIELP[i], stroke: i => gColorsIELP[i]}),
    Plot.text(idx, {x: lxt, y: lyI, text: i => gLabels[i], textAnchor: "start", fontSize: 8, fontWeight: "bold"})
  );
  render(P, marks);
  T("ELP", 355, 369, {size: 10.5, anchor: "start", underline: true});
  T("I-ELP", 355, 410, {size: 10.5, anchor: "start", underline: true});
}

// ---- (H)
{
  const P = PH, idx = conc.map((d, i) => i), cE = "#141486", cI = "#9e1212";
  const legY = [370, 382].map(v => py(P, v)), legX = px(P, 570), legTX = px(P, 580);
  render(P, [
    tY(hYTicks, 6), tY(hYMinor, 3), lY(hYTicks, d => String(d), 6, 11),
    tX(logTicks, 6), lX(logTicks, d => String(d), 5, 11),
    frame(),
    Plot.dot(idx, {x: i => conc[i], y: i => depELP[i], r: 5, fill: cE, stroke: cE}),
    Plot.dot(idx, {x: i => conc[i], y: i => depIELP[i], r: 6, symbol: "diamond2", fill: cI, stroke: "#5a0808", strokeWidth: 1}),
    Plot.dot([0], {x: () => legX, y: () => legY[0], r: 4.2, fill: cE, stroke: cE}),
    Plot.dot([0], {x: () => legX, y: () => legY[1], r: 4.8, symbol: "diamond2", fill: cI, stroke: "#5a0808"}),
    Plot.text(["ELP", "I-ELP"], {x: () => legTX, y: (d, i) => legY[i], text: d => d, textAnchor: "start", fontSize: 10, fontWeight: "normal"})
  ]);
}

// ================= TEXT (titles, panel letters) =================
const letters = [["(A)", 4, 12], ["(B)", 312, 12], ["(C)", 4, 160], ["(D)", 214, 160], ["(E)", 424, 162], ["(F)", 4, 352], ["(G)", 214, 352], ["(H)", 424, 357]];
letters.forEach(([s, x, y]) => T(s, x, y, {size: 15, anchor: "start"}));

T("R<sub>H</sub> (nm)", 12, 72, {size: 13, rotate: -90});
T("K<sub>C</sub>/R (g/mol)", 333, 66, {size: 12, rotate: -90});
T("x 10<sup>-8</sup>", 358, 14, {size: 9, weight: "normal", anchor: "start"});
T("q<sup>2</sup> + kc (um<sup>-2</sup>)", 478, 145, {size: 12});
T("Absorbance (A.U.)", 13, 234, {size: 12.5, rotate: -90});
T("Absorbance (A.U.)", 223, 234, {size: 12.5, rotate: -90});
T("Temperature (°C)", 120, 335, {size: 13, weight: "normal"});
T("Temperature (°C)", 330, 335, {size: 13, weight: "normal"});
T("T<sub>T</sub> (°C)", 432, 237, {size: 13, rotate: -90});
T("Concentration (uM)", 541, 338, {size: 13, weight: "normal"});
T("Absorbance (A.U.)", 13, 428, {size: 12.5, rotate: -90});
T("Absorbance (A.U.)", 223, 430, {size: 12.5, rotate: -90});
T("Time (s)", 120, 529, {size: 14, weight: "normal"});
T("Time (s)", 333, 529, {size: 14, weight: "normal"});
T("Depot Formation (s)", 432, 429, {size: 12, rotate: -90});
T("Concentration (uM)", 542, 528, {size: 13.5, weight: "normal"});
</script></body></html>
